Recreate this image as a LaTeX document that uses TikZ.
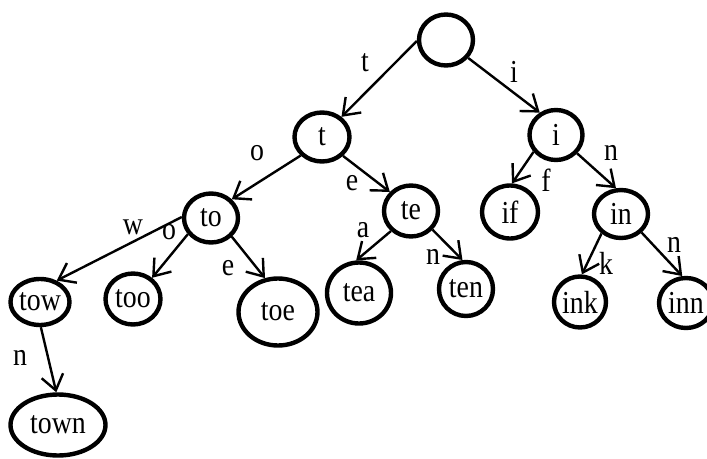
\documentclass[tikz,border=0pt]{standalone}
\usepackage{fontspec}
\setmainfont{Liberation Serif}[FakeStretch=0.87]
\usetikzlibrary{shapes.geometric,arrows.meta}
\begin{document}
\begin{tikzpicture}[x=1pt,y=-1pt,
  trienode/.style={draw, ellipse, line width=4.4pt, inner sep=0pt,
    font=\fontsize{32}{32}\selectfont},
  edge/.style={line width=2.4pt, -{Straight Barb[length=15pt,width=22pt]}},
  lbl/.style={font=\fontsize{32}{32}\selectfont, inner sep=0pt}]
\useasboundingbox (0,0) rectangle (707,458);

% trie nodes
\node[trienode, minimum width=54pt, minimum height=51pt] (root) at (446,40) {};
\node[trienode, minimum width=55pt, minimum height=49pt] (t) at (322,137) {t};
\node[trienode, minimum width=53pt, minimum height=50pt] (i) at (556,135) {i};
\node[trienode, minimum width=54pt, minimum height=49pt] (to) at (211,218) {to};
\node[trienode, minimum width=54pt, minimum height=51pt] (te) at (411,211) {te};
\node[trienode, minimum width=56pt, minimum height=53pt] (if) at (510,212) {if};
\node[trienode, minimum width=54pt, minimum height=48pt] (in) at (621,214) {in};
\node[trienode, minimum width=56pt, minimum height=46pt] (tow) at (40,302) {tow};
\node[trienode, minimum width=55pt, minimum height=51pt] (too) at (133,299) {too};
\node[trienode, minimum width=79pt, minimum height=67pt] (toe) at (278,312) {toe};
\node[trienode, minimum width=64pt, minimum height=61pt] (tea) at (359,293) {tea};
\node[trienode, minimum width=54pt, minimum height=54pt] (ten) at (466,289) {ten};
\node[trienode, minimum width=52pt, minimum height=51pt] (ink) at (580,302) {ink};
\node[trienode, minimum width=54pt, minimum height=50pt] (inn) at (686,303) {inn};
\node[trienode, minimum width=95pt, minimum height=61pt] (town) at (58,425) {town};

% edges
\draw[edge] (root.182) -- (t.46);
\draw[edge] (root.-39) -- (i.126);
\draw[edge] (t.221) -- (to.42);
\draw[edge] (t.-42) -- (te.138);
\draw[edge] (i.217) -- (if.86);
\draw[edge] (i.-41) -- (in.101);
\draw[edge] (to.178) -- (tow.52);
\draw[edge] (to.215) -- (too.48);
\draw[edge] (to.-42) -- (toe.111);
\draw[edge] (te.225) -- (tea.95);
\draw[edge] (te.-41) -- (ten.97);
\draw[edge] (in.225) -- (ink.86);
\draw[edge] (in.-42) -- (inn.98);
\draw[edge] (tow.-88) -- (town.93);

% edge letters
\node[lbl] (lt) at (365,63) {t};
\node[lbl] (li) at (514,72) {i};
\node[lbl] (lo) at (257,153) {o};
\node[lbl] (le) at (352,183) {e};
\node[lbl] (ln) at (611,153) {n};
\node[lbl] (lf) at (546,180) {f};
\node[lbl] (lw) at (133,227) {w};
\node[lbl] (loo) at (169,232) {o};
\node[lbl] (loe) at (228,268) {e};
\node[lbl] (la) at (363,230) {a};
\node[lbl] (len) at (433,257) {n};
\node[lbl] (lk) at (606,263) {k};
\node[lbl] (linn) at (674,245) {n};
\node[lbl] (lown) at (20,358) {n};
\end{tikzpicture}
\end{document}
